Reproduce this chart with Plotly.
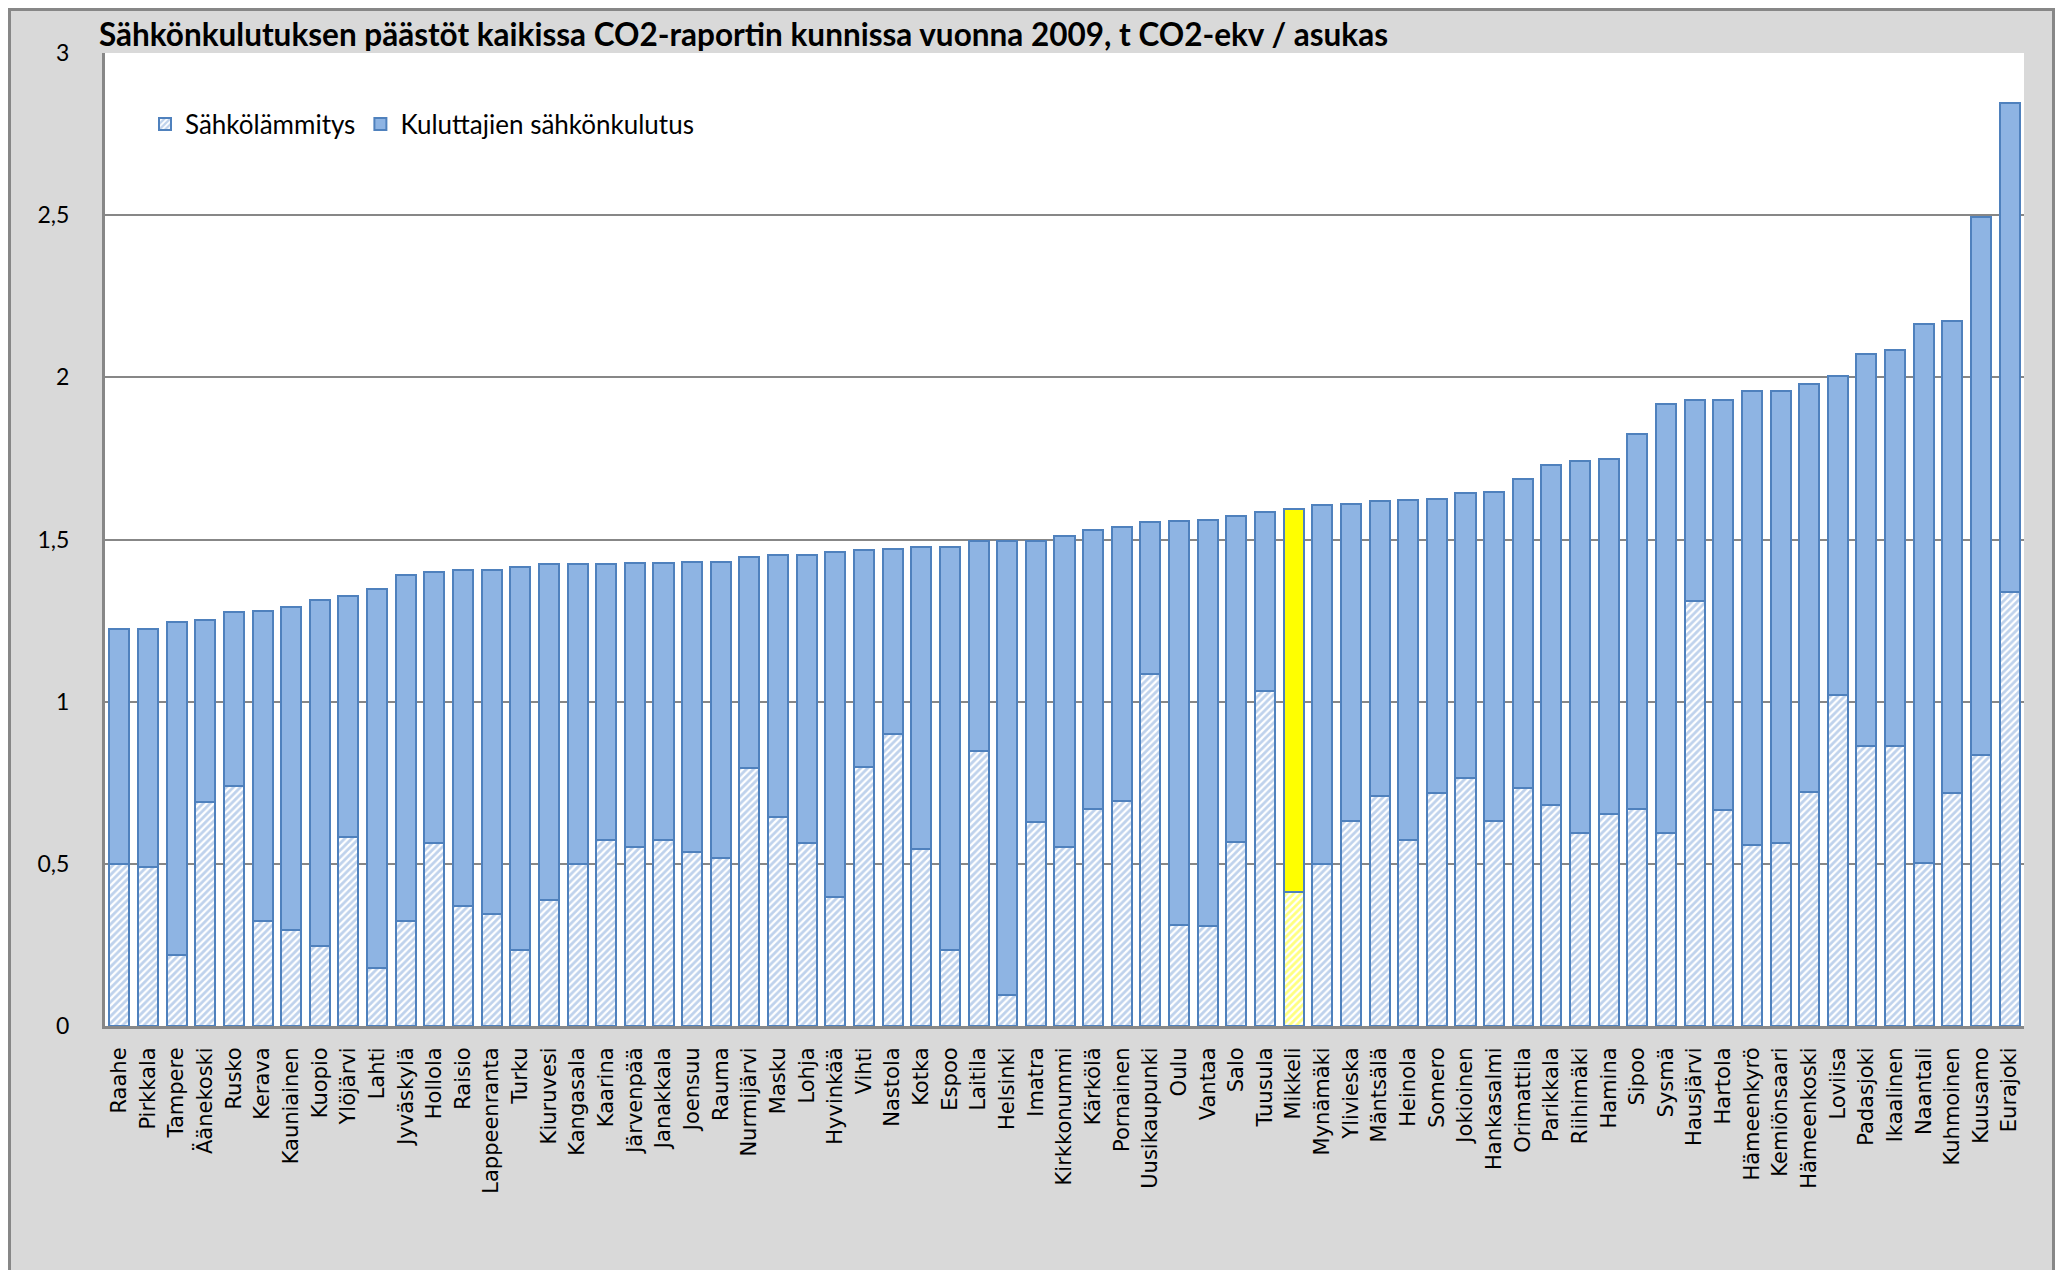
import plotly.graph_objects as go

municipalities = [
    "Raahe", "Pirkkala", "Tampere", "Äänekoski", "Rusko", "Kerava", "Kauniainen", "Kuopio",
    "Ylöjärvi", "Lahti", "Jyväskylä", "Hollola", "Raisio", "Lappeenranta", "Turku", "Kiuruvesi",
    "Kangasala", "Kaarina", "Järvenpää", "Janakkala", "Joensuu", "Rauma", "Nurmijärvi", "Masku",
    "Lohja", "Hyvinkää", "Vihti", "Nastola", "Kotka", "Espoo", "Laitila", "Helsinki", "Imatra",
    "Kirkkonummi", "Kärkölä", "Pornainen", "Uusikaupunki", "Oulu", "Vantaa", "Salo", "Tuusula",
    "Mikkeli", "Mynämäki", "Ylivieska", "Mäntsälä", "Heinola", "Somero", "Jokioinen",
    "Hankasalmi", "Orimattila", "Parikkala", "Riihimäki", "Hamina", "Sipoo", "Sysmä",
    "Hausjärvi", "Hartola", "Hämeenkyrö", "Kemiönsaari", "Hämeenkoski", "Loviisa", "Padasjoki",
    "Ikaalinen", "Naantali", "Kuhmoinen", "Kuusamo", "Eurajoki",
]

sahkolammitys = [
    0.500, 0.490, 0.220, 0.690, 0.740, 0.325, 0.296, 0.247, 0.584, 0.180, 0.324, 0.563,
    0.369, 0.345, 0.235, 0.389, 0.498, 0.572, 0.551, 0.572, 0.535, 0.518, 0.795, 0.645,
    0.563, 0.397, 0.800, 0.900, 0.547, 0.235, 0.847, 0.097, 0.628, 0.551, 0.669, 0.693,
    1.086, 0.312, 0.308, 0.568, 1.034, 0.414, 0.500, 0.632, 0.709, 0.572, 0.718, 0.766,
    0.632, 0.734, 0.681, 0.596, 0.653, 0.669, 0.596, 1.310, 0.665, 0.559, 0.563, 0.722,
    1.022, 0.863, 0.863, 0.503, 0.718, 0.835, 1.338,
]

kuluttajat = [
    0.724, 0.735, 1.025, 0.563, 0.537, 0.956, 0.997, 1.066, 0.742, 1.166, 1.066, 0.837,
    1.038, 1.062, 1.180, 1.034, 0.925, 0.851, 0.876, 0.855, 0.895, 0.912, 0.652, 0.806,
    0.888, 1.066, 0.667, 0.572, 0.929, 1.241, 0.649, 1.399, 0.868, 0.961, 0.859, 0.847,
    0.467, 1.245, 1.253, 1.005, 0.551, 1.179, 1.105, 0.977, 0.909, 1.050, 0.908, 0.876,
    1.014, 0.952, 1.050, 1.147, 1.094, 1.155, 1.322, 0.620, 1.265, 1.399, 1.395, 1.256,
    0.981, 1.209, 1.221, 1.662, 1.455, 1.658, 1.508,
]

highlight = "Mikkeli"
title_text = "Sähkönkulutuksen päästöt kaikissa CO2-raportin kunnissa vuonna 2009, t CO2-ekv / asukas"
y_ticks = [0, 0.5, 1, 1.5, 2, 2.5, 3]

BLUE_LINE = "#4F81BD"
BLUE_FILL = "#8EB4E3"
HATCH = "#7FA6DA"
YELLOW = "#FFFF00"

hatch_colors = [YELLOW if m == highlight else HATCH for m in municipalities]
solid_colors = [YELLOW if m == highlight else BLUE_FILL for m in municipalities]

# figure sits inside the page's 8px body margin
W, H = 2047, 1262
L, R, T, B = 97, 31, 45, 244
pw, ph = W - L - R, H - T - B


def px_to_paper_x(px):
    return (px - L) / pw


def py_to_paper_y(py):
    return 1 - (py - T) / ph


fig = go.Figure()
fig.add_trace(go.Bar(
    x=municipalities, y=sahkolammitys, name="Sähkölämmitys",
    marker=dict(
        color="white",
        line=dict(color=BLUE_LINE, width=2),
        pattern=dict(shape="/", fgcolor=hatch_colors, bgcolor="white", size=5, solidity=0.55),
    ),
))
fig.add_trace(go.Bar(
    x=municipalities, y=kuluttajat, name="Kuluttajien sähkönkulutus",
    marker=dict(color=solid_colors, line=dict(color=BLUE_LINE, width=2)),
))

fig.add_shape(type="rect", xref="paper", yref="paper",
              x0=px_to_paper_x(1.5), x1=px_to_paper_x(W - 1.5),
              y0=py_to_paper_y(H + 20), y1=py_to_paper_y(1.5),
              line=dict(color="#878787", width=3), fillcolor="rgba(0,0,0,0)", layer="below")

fig.update_layout(
    width=W, height=H,
    barmode="stack", bargap=0.3,
    paper_bgcolor="#D9D9D9", plot_bgcolor="white",
    margin=dict(l=L, r=R, t=T, b=B, autoexpand=False),
    separators=", ",
    font=dict(family="Lato, Open Sans, sans-serif", color="black"),
    title=dict(text="<b>" + title_text + "</b>", x=91 / W, xanchor="left", xref="container",
               y=1 - 27 / H, yanchor="middle", yref="container",
               font=dict(size=31.5, family="Lato, Open Sans, sans-serif", color="black")),
    legend=dict(orientation="h", x=px_to_paper_x(137), y=py_to_paper_y(116), xanchor="left",
                yanchor="middle", bgcolor="rgba(0,0,0,0)",
                font=dict(size=26, family="Lato, Open Sans, sans-serif"),
                traceorder="normal", itemwidth=30),
    showlegend=True,
)

fig.update_xaxes(
    type="category", tickangle=-90, showgrid=False,
    showline=True, linecolor="#878787", linewidth=3,
    tickfont=dict(family="DejaVu Sans", size=21, color="black"),
    ticks="", ticklabelstandoff=10,
)
fig.update_yaxes(
    range=[0, 3], tickvals=y_ticks, ticktext=[("%g" % v).replace(".", ",") for v in y_ticks],
    showgrid=True, gridcolor="#878787", gridwidth=2,
    showline=True, linecolor="#878787", linewidth=3,
    zeroline=False, ticks="", ticklabelstandoff=28,
    tickfont=dict(family="Lato, Open Sans, sans-serif", size=23, color="black"),
)

fig.write_html("out.html")
